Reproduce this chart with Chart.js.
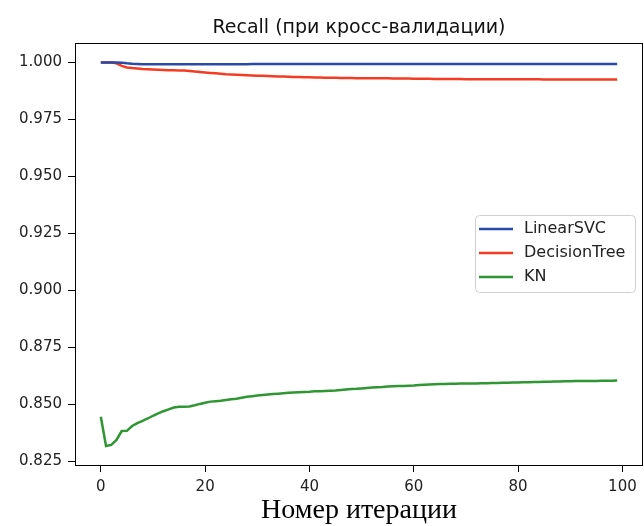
<!DOCTYPE html>
<html lang="ru">
<head>
    <meta charset="UTF-8">
    <title>Recall (при кросс-валидации)</title>
    <script src="https://cdn.jsdelivr.net/npm/chart.js@4.4.1/dist/chart.umd.min.js"></script>
    <style>
        html, body {
            margin: 0;
            padding: 0;
            background: #fff;
            overflow: hidden;
        }
        #wrap {
            width: 644px;
            height: 526px;
        }
    </style>
</head>
<body>

<div id="wrap"><canvas id="recallChart" width="644" height="526"></canvas></div>

<script>
    const seriesNames = ['LinearSVC', 'DecisionTree', 'KN'];
    const seriesColors = ['#2a4aa8', '#f53c22', '#2e9632'];

    const iterations = Array.from({length: 100}, (_, i) => i);

    const linearSVC = [
        1.0000, 1.0000, 1.0000, 1.0000, 0.9999, 0.9996, 0.9994, 0.9993, 0.9992, 0.9992,
        0.9992, 0.9992, 0.9992, 0.9992, 0.9992, 0.9992, 0.9992, 0.9992, 0.9992, 0.9992,
        0.9992, 0.9992, 0.9992, 0.9992, 0.9992, 0.9992, 0.9992, 0.9992, 0.9992, 0.9993,
        0.9993, 0.9993, 0.9993, 0.9993, 0.9993, 0.9993, 0.9993, 0.9993, 0.9993, 0.9993,
        0.9993, 0.9993, 0.9993, 0.9993, 0.9993, 0.9993, 0.9993, 0.9993, 0.9993, 0.9993,
        0.9993, 0.9993, 0.9993, 0.9993, 0.9993, 0.9993, 0.9993, 0.9993, 0.9993, 0.9993,
        0.9993, 0.9993, 0.9993, 0.9993, 0.9993, 0.9993, 0.9993, 0.9993, 0.9993, 0.9993,
        0.9993, 0.9993, 0.9993, 0.9993, 0.9993, 0.9993, 0.9993, 0.9993, 0.9993, 0.9993,
        0.9993, 0.9993, 0.9993, 0.9993, 0.9993, 0.9993, 0.9993, 0.9993, 0.9993, 0.9993,
        0.9993, 0.9993, 0.9993, 0.9993, 0.9993, 0.9993, 0.9993, 0.9993, 0.9993, 0.9993
    ];

    const decisionTree = [
        1.0000, 1.0000, 1.0000, 0.9996, 0.9985, 0.9978, 0.9975, 0.9973, 0.9971, 0.9970,
        0.9969, 0.9968, 0.9967, 0.9966, 0.9966, 0.9965, 0.9964, 0.9962, 0.9960, 0.9958,
        0.9956, 0.9954, 0.9952, 0.9950, 0.9948, 0.9947, 0.9946, 0.9945, 0.9944, 0.9943,
        0.9942, 0.9941, 0.9940, 0.9939, 0.9938, 0.9938, 0.9937, 0.9936, 0.9936, 0.9935,
        0.9935, 0.9934, 0.9934, 0.9933, 0.9933, 0.9933, 0.9932, 0.9932, 0.9932, 0.9931,
        0.9931, 0.9931, 0.9930, 0.9930, 0.9930, 0.9930, 0.9929, 0.9929, 0.9929, 0.9929,
        0.9928, 0.9928, 0.9928, 0.9928, 0.9927, 0.9927, 0.9927, 0.9927, 0.9927, 0.9927,
        0.9926, 0.9926, 0.9926, 0.9926, 0.9926, 0.9926, 0.9926, 0.9926, 0.9926, 0.9926,
        0.9926, 0.9926, 0.9926, 0.9926, 0.9926, 0.9925, 0.9925, 0.9925, 0.9925, 0.9925,
        0.9925, 0.9925, 0.9925, 0.9925, 0.9925, 0.9925, 0.9925, 0.9925, 0.9925, 0.9925
    ];

    const kn = [
        0.8446, 0.8317, 0.8322, 0.8344, 0.8383, 0.8384, 0.8405, 0.8418, 0.8428, 0.8438,
        0.8450, 0.8460, 0.8470, 0.8478, 0.8486, 0.8489, 0.8490, 0.8491, 0.8496, 0.8502,
        0.8507, 0.8512, 0.8514, 0.8516, 0.8519, 0.8522, 0.8525, 0.8529, 0.8533, 0.8536,
        0.8539, 0.8541, 0.8543, 0.8545, 0.8547, 0.8549, 0.8551, 0.8552, 0.8553, 0.8554,
        0.8555, 0.8557, 0.8558, 0.8559, 0.8560, 0.8561, 0.8563, 0.8565, 0.8567, 0.8568,
        0.8570, 0.8572, 0.8574, 0.8575, 0.8576, 0.8578, 0.8579, 0.8580, 0.8581, 0.8582,
        0.8583, 0.8585, 0.8586, 0.8587, 0.8588, 0.8589, 0.8589, 0.8590, 0.8590, 0.8591,
        0.8591, 0.8592, 0.8592, 0.8593, 0.8593, 0.8594, 0.8594, 0.8595, 0.8595, 0.8596,
        0.8596, 0.8597, 0.8597, 0.8598, 0.8598, 0.8599, 0.8599, 0.8600, 0.8600, 0.8601,
        0.8601, 0.8602, 0.8602, 0.8603, 0.8603, 0.8603, 0.8604, 0.8604, 0.8604, 0.8605
    ];

    const xTicks = [0, 20, 40, 60, 80, 100];
    const yTicks = [0.825, 0.850, 0.875, 0.900, 0.925, 0.950, 0.975, 1.000];

    const tickFont = { family: '"DejaVu Sans", sans-serif', size: 15 };

    // black frame round the plot area, like matplotlib spines
    const framePlugin = {
        id: 'frame',
        afterDatasetsDraw(chart) {
            const a = chart.chartArea;
            const ctx = chart.ctx;
            ctx.save();
            ctx.strokeStyle = '#000';
            ctx.lineWidth = 1;
            ctx.strokeRect(Math.round(a.left) + 0.5, Math.round(a.top) + 0.5,
                Math.round(a.right - a.left) - 1, Math.round(a.bottom - a.top));
            ctx.restore();
        }
    };

    // legend box inside the plot, centre right
    const insideLegend = {
        id: 'insideLegend',
        afterDraw(chart) {
            const a = chart.chartArea;
            const ctx = chart.ctx;
            const w = 160, h = 77;
            const x = Math.round(a.right - 8 - w);
            const y = Math.round((a.top + a.bottom) / 2 - h / 2);
            ctx.save();
            ctx.beginPath();
            ctx.roundRect(x + 0.5, y + 0.5, w, h, 4);
            ctx.fillStyle = 'rgba(255,255,255,0.8)';
            ctx.fill();
            ctx.strokeStyle = '#d0d0d0';
            ctx.lineWidth = 1;
            ctx.stroke();
            ctx.font = '16px "DejaVu Sans", sans-serif';
            ctx.textBaseline = 'middle';
            chart.data.datasets.forEach((ds, i) => {
                const ry = y + 14 + i * 24;
                ctx.beginPath();
                ctx.moveTo(x + 4, ry);
                ctx.lineTo(x + 38, ry);
                ctx.strokeStyle = ds.borderColor;
                ctx.lineWidth = 2.5;
                ctx.stroke();
                ctx.fillStyle = '#222';
                ctx.fillText(ds.label, x + 49, ry);
            });
            ctx.restore();
        }
    };

    const ctx = document.getElementById('recallChart').getContext('2d');
    const chart = new Chart(ctx, {
        type: 'line',
        data: {
            labels: iterations,
            datasets: [
                { label: seriesNames[0], data: linearSVC, borderColor: seriesColors[0] },
                { label: seriesNames[1], data: decisionTree, borderColor: seriesColors[1] },
                { label: seriesNames[2], data: kn, borderColor: seriesColors[2] }
            ]
        },
        options: {
            responsive: false,
            animation: false,
            layout: {
                padding: { left: 0, right: 1, top: 0, bottom: 0 }
            },
            elements: {
                point: { radius: 0 },
                line: { borderWidth: 2.5, tension: 0, fill: false }
            },
            plugins: {
                legend: { display: false },
                tooltip: { enabled: false },
                title: {
                    display: true,
                    fullSize: false,
                    text: 'Recall (при кросс-валидации)',
                    color: '#111',
                    font: { family: '"DejaVu Sans", sans-serif', size: 19, weight: 'normal', lineHeight: 1.2 },
                    padding: { top: 17, bottom: 3 }
                }
            },
            scales: {
                x: {
                    type: 'linear',
                    min: -4.95,
                    max: 103.95,
                    afterBuildTicks: s => { s.ticks = xTicks.map(v => ({ value: v })); },
                    afterFit: s => { s.height = 61; },
                    grid: { drawOnChartArea: false, drawTicks: true, tickLength: 7, tickColor: '#000' },
                    border: { display: false },
                    ticks: {
                        color: '#222',
                        font: tickFont,
                        padding: 6,
                        maxRotation: 0,
                        callback: v => String(v)
                    },
                    title: {
                        display: true,
                        text: 'Номер итерации',
                        color: '#000',
                        font: { family: '"Liberation Serif", serif', size: 28, lineHeight: 1.0 },
                        padding: { top: 0, bottom: 1 }
                    }
                },
                y: {
                    type: 'linear',
                    min: 0.8234,
                    max: 1.0086,
                    afterBuildTicks: s => { s.ticks = yTicks.map(v => ({ value: v })); },
                    afterFit: s => { s.width = 75; },
                    grid: { drawOnChartArea: false, drawTicks: true, tickLength: 7, tickColor: '#000' },
                    border: { display: false },
                    ticks: {
                        color: '#222',
                        font: tickFont,
                        padding: 6,
                        callback: v => v.toFixed(3)
                    }
                }
            }
        },
        plugins: [framePlugin, insideLegend]
    });
</script>

</body>
</html>
